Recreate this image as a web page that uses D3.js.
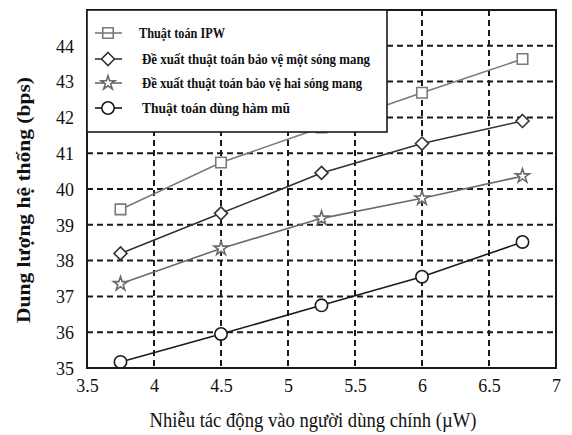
<!DOCTYPE html>
<html>
<head>
<meta charset="utf-8">
<script src="https://cdn.jsdelivr.net/npm/d3@7"></script>
<style>
  html, body { margin: 0; padding: 0; background: #fff; }
  svg { display: block; }
  text { font-family: "Liberation Serif", "DejaVu Serif", serif; fill: #111; }
</style>
</head>
<body>
<svg id="chart" width="572" height="435"></svg>
<script>
// Interference on the primary user (µW)
const xValues = [3.75, 4.5, 5.25, 6, 6.75];

// System capacity (bps) per algorithm
const ipw      = [39.43, 40.74, 41.72, 42.69, 43.63];
const oneCarrier = [38.20, 39.32, 40.45, 41.27, 41.90];
const twoCarrier = [37.35, 38.34, 39.18, 39.74, 40.36];
const expFunc  = [35.17, 35.95, 36.75, 37.55, 38.52];

const seriesNames = [
  "Thuật toán IPW",
  "Đề xuất  thuật toán bảo vệ một sóng mang",
  "Đề xuất thuật toán bảo vệ hai sóng mang",
  "Thuật toán dùng hàm mũ"
];

const xTicks = [3.5, 4, 4.5, 5, 5.5, 6, 6.5, 7];
const yTicks = [35, 36, 37, 38, 39, 40, 41, 42, 43, 44];

const xTitle = "Nhiễu tác động vào người dùng chính (µW)";
const yTitle = "Dung lượng hệ thống (bps)";

const svg = d3.select("#chart");
const plotLeft = 87, plotRight = 556, plotTop = 10, plotBottom = 368;
const serif = "'Liberation Serif', 'DejaVu Serif', serif";

const x = d3.scaleLinear().domain([3.5, 7]).range([plotLeft, plotRight]);
const y = d3.scaleLinear().domain([35, 45]).range([plotBottom, plotTop]);

// dashed grid
const grid = svg.append("g");
grid.selectAll("line.gx").data(xTicks.filter(d => d > 3.5 && d < 7)).join("line")
  .attr("class", "gx")
  .attr("x1", d => x(d)).attr("x2", d => x(d))
  .attr("y1", plotTop).attr("y2", plotBottom)
  .attr("stroke", "#1a1a1a").attr("stroke-width", 2).attr("stroke-dasharray", "6,4");
grid.selectAll("line.gy").data(yTicks.filter(d => d > 35)).join("line")
  .attr("class", "gy")
  .attr("x1", plotLeft).attr("x2", plotRight)
  .attr("y1", d => y(d)).attr("y2", d => y(d))
  .attr("stroke", "#1a1a1a").attr("stroke-width", 2).attr("stroke-dasharray", "6,4");

// axes (labels only, frame drawn separately)
const xAxis = d3.axisBottom(x).tickValues(xTicks).tickSize(0).tickPadding(0)
  .tickFormat(d => String(d));
const gx = svg.append("g").attr("transform", `translate(0,${plotBottom})`).call(xAxis)
  .attr("font-family", serif).attr("font-size", 18);
gx.select(".domain").remove();
gx.selectAll("text").attr("dy", null).attr("y", 24).attr("fill", "#111");

const yAxis = d3.axisLeft(y).tickValues(yTicks).tickSize(0).tickPadding(0)
  .tickFormat(d => String(d));
const gy = svg.append("g").attr("transform", `translate(74,0)`).call(yAxis)
  .attr("font-family", serif).attr("font-size", 18);
gy.select(".domain").remove();
gy.selectAll("text").attr("dy", "0.35em").attr("fill", "#111");

// series
const series = [
  { name: seriesNames[0], values: ipw,        color: "#7a7a7a", marker: "square" },
  { name: seriesNames[1], values: oneCarrier, color: "#333333", marker: "diamond" },
  { name: seriesNames[2], values: twoCarrier, color: "#6a6a6a", marker: "star" },
  { name: seriesNames[3], values: expFunc,    color: "#1a1a1a", marker: "circle" }
];

// equal-sided diamond (square turned 45°)
const diamondPath = "M0,-6.5L6.5,0L0,6.5L-6.5,0Z";
const symbolFor = {
  square: () => d3.symbol().type(d3.symbolSquare).size(110)(),
  diamond: () => diamondPath,
  star: () => d3.symbol().type(d3.symbolStar).size(60)(),
  circle: () => d3.symbol().type(d3.symbolCircle).size(120)()
};

const line = d3.line().x(d => x(d[0])).y(d => y(d[1]));

series.forEach(s => {
  const pts = xValues.map((xv, i) => [xv, s.values[i]]);
  const g = svg.append("g");
  g.append("path").datum(pts).attr("d", line)
    .attr("fill", "none").attr("stroke", s.color).attr("stroke-width", 1.6);
  g.selectAll("path.m").data(pts).join("path").attr("class", "m")
    .attr("transform", d => `translate(${x(d[0])},${y(d[1])})`)
    .attr("d", symbolFor[s.marker]())
    .attr("fill", "#fff").attr("stroke", s.color).attr("stroke-width", 1.6);
});

// plot frame
svg.append("rect").attr("x", plotLeft).attr("y", plotTop)
  .attr("width", plotRight - plotLeft).attr("height", plotBottom - plotTop)
  .attr("fill", "none").attr("stroke", "#1a1a1a").attr("stroke-width", 2);

// legend
const legend = svg.append("g");
legend.append("rect").attr("x", plotLeft).attr("y", plotTop)
  .attr("width", 300).attr("height", 122)
  .attr("fill", "#fff").attr("stroke", "#1a1a1a").attr("stroke-width", 1.6);
const legendY = [33, 59, 83, 108];
const legendW = [86, 228, 220, 148];
series.forEach((s, i) => {
  const ly = legendY[i];
  legend.append("line").attr("x1", 95).attr("x2", 122).attr("y1", ly).attr("y2", ly)
    .attr("stroke", s.color).attr("stroke-width", 1.6);
  legend.append("path").attr("transform", `translate(108,${ly})`)
    .attr("d", symbolFor[s.marker]())
    .attr("fill", s.marker === "square" ? "none" : "#fff")
    .attr("stroke", s.color).attr("stroke-width", 1.6);
  legend.append("text").attr("x", i === 0 ? 139 : 142).attr("y", ly + 5)
    .attr("textLength", legendW[i]).attr("lengthAdjust", "spacingAndGlyphs")
    .style("font-size", "15px").style("font-weight", "bold")
    .text(s.name);
});

// axis titles
svg.append("text").attr("x", 313).attr("y", 427).attr("text-anchor", "middle")
  .attr("textLength", 327).attr("lengthAdjust", "spacingAndGlyphs")
  .style("font-size", "20px").text(xTitle);

svg.append("text").attr("transform", "translate(30,200) rotate(-90)")
  .attr("text-anchor", "middle")
  .attr("textLength", 246).attr("lengthAdjust", "spacingAndGlyphs")
  .style("font-size", "19px").style("font-weight", "bold").text(yTitle);
</script>
</body>
</html>
